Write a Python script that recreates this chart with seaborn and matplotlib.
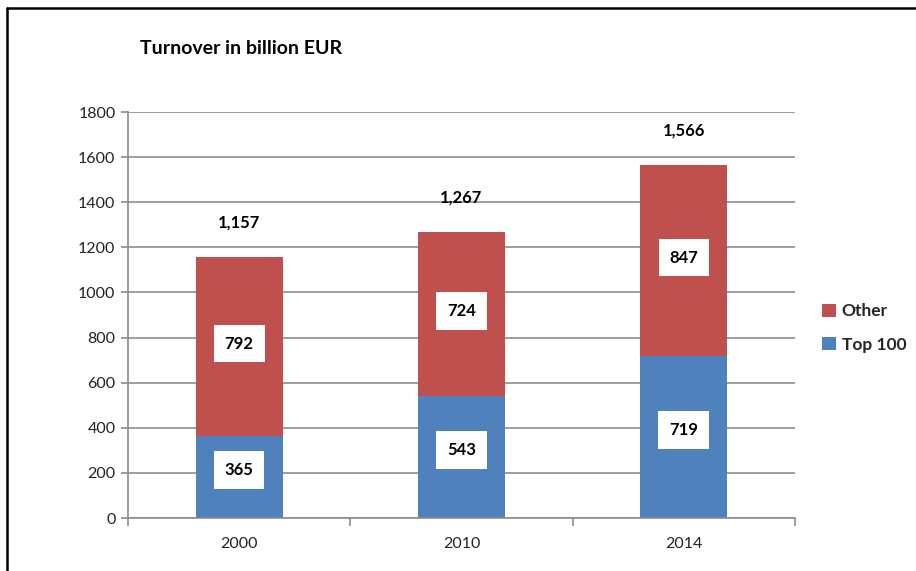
import matplotlib
matplotlib.use("Agg")
import matplotlib.pyplot as plt
import seaborn as sns
import pandas as pd
from matplotlib.patches import Patch
from matplotlib.lines import Line2D

years = ["2000", "2010", "2014"]
top100 = [365, 543, 719]
other = [792, 724, 847]
totals = [1157, 1267, 1566]
total_labels = ["1,157", "1,267", "1,566"]
yticks = [0, 200, 400, 600, 800, 1000, 1200, 1400, 1600, 1800]

sns.set_theme(style="white")
plt.rcParams["font.family"] = ["Lato", "DejaVu Sans"]

RED = "#C0504D"
BLUE = "#4F81BD"
GRID = "#8C8C8C"

df = pd.DataFrame({"year": years, "top100": top100, "other": other, "total": totals})

fig = plt.figure(figsize=(9.16, 5.71), dpi=100)
ax = fig.add_axes([128/916, 53/571, 667/916, 406/571])

sns.barplot(data=df, x="year", y="total", color=RED, saturation=1, width=0.39, ax=ax, zorder=2)
sns.barplot(data=df, x="year", y="top100", color=BLUE, saturation=1, width=0.39, ax=ax, zorder=2)
for p in ax.patches:
    p.set_edgecolor("none")

ax.set_xlim(-0.5, 2.5)
ax.set_ylim(0, 1800)
ax.set_yticks(yticks)
ax.set_yticklabels([str(v) for v in yticks])
ax.set_xlabel("")
ax.set_ylabel("")
ax.yaxis.grid(True, color=GRID, linewidth=1.2, zorder=0)
ax.set_axisbelow(True)
for s in ["top", "right"]:
    ax.spines[s].set_visible(False)
for s in ["left", "bottom"]:
    ax.spines[s].set_color(GRID)
    ax.spines[s].set_linewidth(1.2)

ax.tick_params(axis="y", which="major", direction="out", length=5, color=GRID, width=1.2,
               labelsize=11.5, labelcolor="#222222", pad=4, left=True)
ax.tick_params(axis="x", which="major", length=0, labelsize=11.5, labelcolor="#222222", pad=14)
ax.set_xticks([-0.5, 0.5, 1.5, 2.5], minor=True)
ax.tick_params(axis="x", which="minor", direction="out", length=6, color=GRID, width=1.2, bottom=True)

box = dict(boxstyle="square,pad=0.65", facecolor="white", edgecolor="none")
for i in range(len(years)):
    ax.annotate(str(top100[i]), xy=(i, top100[i] / 2), xytext=(0, 5), textcoords="offset points",
                ha="center", va="center", fontsize=12, fontweight="bold", color="black",
                bbox=box, zorder=5)
    ax.annotate(str(other[i]), xy=(i, top100[i] + other[i] / 2), xytext=(0, 2),
                textcoords="offset points", ha="center", va="center", fontsize=12,
                fontweight="bold", color="black", bbox=box, zorder=5)
    ax.annotate(total_labels[i], xy=(i, totals[i]), xytext=(0, 19), textcoords="offset points",
                ha="center", va="bottom", fontsize=12, fontweight="bold", color="black")

fig.text(140/916, 1 - 48/571, "Turnover in billion EUR", fontsize=14, fontweight="bold",
         ha="left", va="center", color="black")

handles = [Patch(facecolor=RED, edgecolor="none", label="Other"),
           Patch(facecolor=BLUE, edgecolor="none", label="Top 100")]
fig.legend(handles=handles, loc="center left", bbox_to_anchor=(806/916, 1 - 328/571),
           frameon=False, handlelength=0.8, handleheight=0.8, handletextpad=0.35,
           labelspacing=1.0, prop={"size": 12.5, "weight": "bold"})

# figure frame (left and top edges visible)
fig.add_artist(Line2D([6.5/916, 6.5/916], [0, 1 - 8/571], transform=fig.transFigure,
                      color="black", linewidth=1.8))
fig.add_artist(Line2D([6.5/916, 1], [1 - 8/571, 1 - 8/571], transform=fig.transFigure,
                      color="black", linewidth=1.8))

fig.savefig("out.png", dpi=100)
